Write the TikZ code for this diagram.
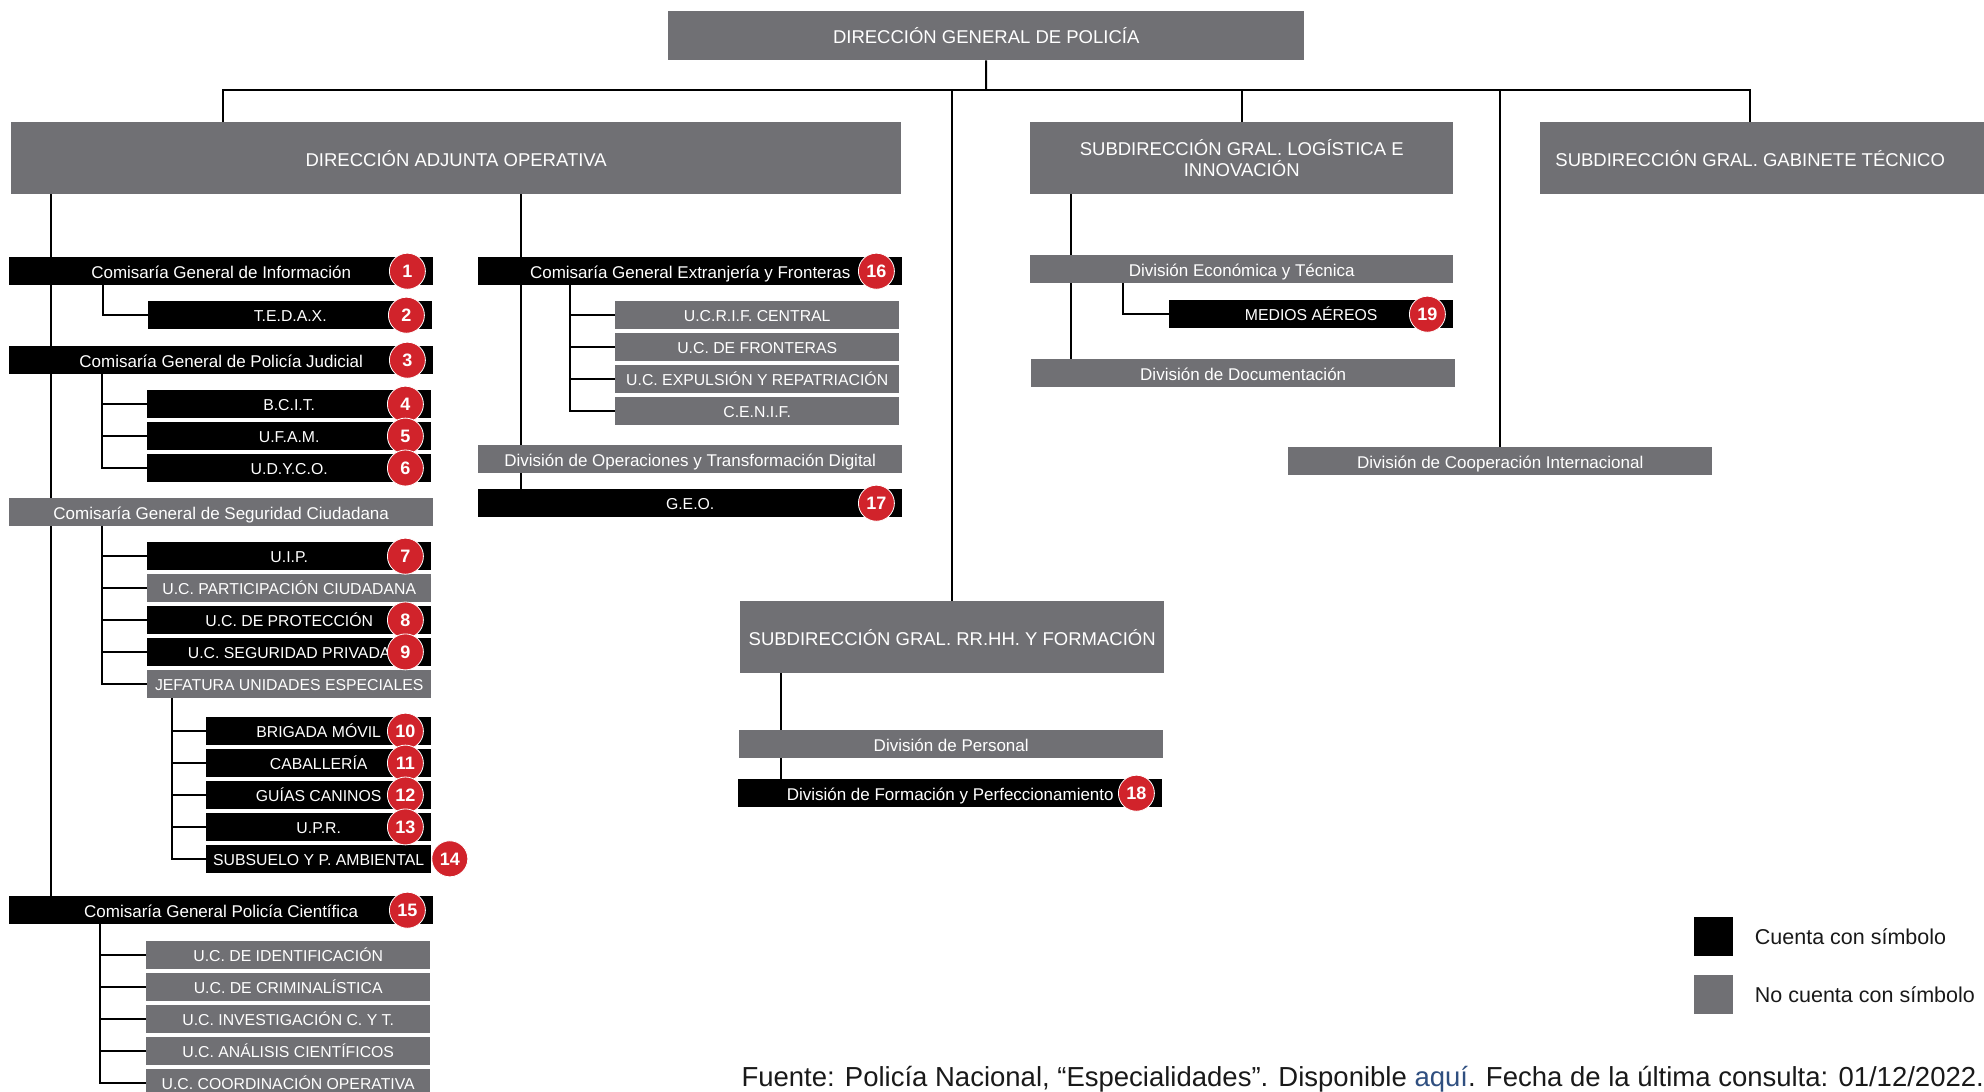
\documentclass[tikz,border=0pt]{standalone}
\usepackage{fontspec}
\setmainfont{Liberation Sans}
\usepackage{tikz}
\usetikzlibrary{positioning,backgrounds}
\definecolor{pngray}{RGB}{112,112,116}
\definecolor{pnred}{RGB}{209,35,43}
\definecolor{pnlink}{RGB}{47,79,128}
\definecolor{pntext}{RGB}{25,25,25}

\begin{document}
\begin{tikzpicture}[x=1pt, y=-1pt,
  hd/.style={rectangle, fill=pngray, text=white, inner sep=0pt, anchor=north west,
             minimum height=72pt, font=\fontsize{18.5}{22}\selectfont,
             text height=16.5pt, text depth=0pt},
  hd2/.style={rectangle, fill=pngray, text=white, inner sep=0pt, anchor=north west,
              minimum height=72pt, align=center, font=\fontsize{18.5}{21}\selectfont},
  blk/.style={rectangle, fill=black, text=white, inner sep=0pt, anchor=north west,
              minimum height=28pt, font=\fontsize{17}{20}\selectfont,
              text height=14pt, text depth=0pt},
  gry/.style={blk, fill=pngray},
  uc/.style={font=\fontsize{15.8}{19}\selectfont, text height=13.1pt},
  num/.style={circle, fill=pnred, draw=white, line width=0.8pt, text=white,
              minimum size=36pt, inner sep=0pt, font=\fontsize{18}{18}\selectfont\bfseries},
  ln/.style={line width=2pt},
  key/.style={rectangle, minimum size=39pt, inner sep=0pt, anchor=north west},
  lbl/.style={anchor=west, text=pntext, font=\fontsize{21.5}{25}\selectfont},
  node distance=3.5pt]

\useasboundingbox (0,0) rectangle (1984,1092);

\node[hd, minimum width=636pt, minimum height=49pt] (dgp) at (668,11) {DIRECCIÓN GENERAL DE POLICÍA};
\node[hd, minimum width=890pt] (dao) at (11,122) {DIRECCIÓN ADJUNTA OPERATIVA};
\node[hd2, minimum width=423pt] (logi) at (1030,122) {SUBDIRECCIÓN GRAL. LOGÍSTICA E\\INNOVACIÓN};
\node[hd, minimum width=420pt] (gab) at (1540,122) {SUBDIRECCIÓN GRAL. GABINETE TÉCNICO};
\fill[pngray] (gab.north east) rectangle ([xshift=24pt]gab.south east);
\node[hd, minimum width=424pt] (rrhh) at (740,601) {SUBDIRECCIÓN GRAL. RR.HH. Y FORMACIÓN};

% left column
\node[blk, minimum width=424pt] (cgi) at (9,257) {Comisaría General de Información};
\node[blk, uc, minimum width=284pt] (tedax) at (148,301) {T.E.D.A.X.};
\node[blk, minimum width=424pt] (cgpj) at (9,346) {Comisaría General de Policía Judicial};
\node[blk, uc, minimum width=284pt] (bcit) at (147,390) {B.C.I.T.};
\node[blk, uc, minimum width=284pt, below=of bcit] (ufam) {U.F.A.M.};
\node[blk, uc, minimum width=284pt, below=of ufam] (udyco) {U.D.Y.C.O.};
\node[gry, minimum width=424pt] (cgsc) at (9,498) {Comisaría General de Seguridad Ciudadana};
\node[blk, uc, minimum width=284pt] (uip) at (147,542) {U.I.P.};
\node[gry, uc, minimum width=284pt, below=of uip] (ucpc) {U.C. PARTICIPACIÓN CIUDADANA};
\node[blk, uc, minimum width=284pt, below=of ucpc] (ucdp) {U.C. DE PROTECCIÓN};
\node[blk, uc, minimum width=284pt, below=of ucdp] (ucsp) {U.C. SEGURIDAD PRIVADA};
\node[gry, uc, minimum width=284pt, below=of ucsp] (jue) {JEFATURA UNIDADES ESPECIALES};
\node[blk, uc, minimum width=225pt] (bm) at (206,717) {BRIGADA MÓVIL};
\node[blk, uc, minimum width=225pt, below=of bm] (cab) {CABALLERÍA};
\node[blk, uc, minimum width=225pt, below=of cab] (gc) {GUÍAS CANINOS};
\node[blk, uc, minimum width=225pt, below=of gc] (upr) {U.P.R.};
\node[blk, uc, minimum width=225pt, below=of upr] (spa) {SUBSUELO Y P. AMBIENTAL};
\node[blk, minimum width=424pt] (cgpc) at (9,896) {Comisaría General Policía Científica};
\node[gry, uc, minimum width=284pt] (ucid) at (146,941) {U.C. DE IDENTIFICACIÓN};
\node[gry, uc, minimum width=284pt, below=of ucid] (uccr) {U.C. DE CRIMINALÍSTICA};
\node[gry, uc, minimum width=284pt, below=of uccr] (ucin) {U.C. INVESTIGACIÓN C. Y T.};
\node[gry, uc, minimum width=284pt, below=of ucin] (ucan) {U.C. ANÁLISIS CIENTÍFICOS};
\node[gry, uc, minimum width=284pt, below=of ucan] (ucco) {U.C. COORDINACIÓN OPERATIVA};

% middle column
\node[blk, minimum width=424pt] (cgef) at (478,257) {Comisaría General Extranjería y Fronteras};
\node[gry, uc, minimum width=284pt] (ucrif) at (615,301) {U.C.R.I.F. CENTRAL};
\node[gry, uc, minimum width=284pt, below=of ucrif] (ucfr) {U.C. DE FRONTERAS};
\node[gry, uc, minimum width=284pt, below=of ucfr] (ucex) {U.C. EXPULSIÓN Y REPATRIACIÓN};
\node[gry, uc, minimum width=284pt, below=of ucex] (cenif) {C.E.N.I.F.};
\node[gry, minimum width=424pt] (dotd) at (478,445) {División de Operaciones y Transformación Digital};
\node[blk, uc, minimum width=424pt] (geo) at (478,489) {G.E.O.};

% right side
\node[gry, minimum width=423pt] (det) at (1030,255) {División Económica y Técnica};
\node[blk, uc, minimum width=284pt] (ma) at (1169,300) {MEDIOS AÉREOS};
\node[gry, minimum width=424pt] (dd) at (1031,359) {División de Documentación};
\node[gry, minimum width=424pt] (dci) at (1288,447) {División de Cooperación Internacional};
\node[gry, minimum width=424pt] (dp) at (739,730) {División de Personal};
\node[blk, minimum width=424pt] (dfp) at (738,779) {División de Formación y Perfeccionamiento};

\foreach \bx/\nr in {cgi/1,tedax/2,cgpj/3,bcit/4,ufam/5,udyco/6,uip/7,ucdp/8,ucsp/9,
    bm/10,cab/11,gc/12,upr/13,cgpc/15,cgef/16,geo/17,dfp/18,ma/19}
  \node[num] (n\nr) at ([xshift=-26pt]\bx.east) {\nr};
\node[num, right=0pt of spa] (n14) {14};

\begin{scope}[on background layer]
\coordinate (bus) at (986,90);
\draw[ln] (dgp.south) -- (bus);
\draw[ln] ([xshift=-233pt]dao.north) |- (bus);
\draw[ln] (rrhh.north) |- (bus);
\draw[ln] (logi.north) |- (bus);
\draw[ln] (dci.north) |- (bus);
\draw[ln] (gab.north) |- (bus);
\draw[ln] ([xshift=40pt]dao.south west) -- ([xshift=42pt]cgpc.north west);
\draw[ln] ([xshift=510pt]dao.south west) -- ([xshift=43pt]geo.north west);
\draw[ln] ([xshift=94pt]cgi.south west) |- (tedax.west);
\foreach \c in {bcit,ufam,udyco}
  \draw[ln] ([xshift=93pt]cgpj.south west) |- (\c.west);
\foreach \c in {uip,ucpc,ucdp,ucsp,jue}
  \draw[ln] ([xshift=93pt]cgsc.south west) |- (\c.west);
\foreach \c in {bm,cab,gc,upr,spa}
  \draw[ln] ([xshift=25pt]jue.south west) |- (\c.west);
\foreach \c in {ucid,uccr,ucin,ucan,ucco}
  \draw[ln] ([xshift=91pt]cgpc.south west) |- (\c.west);
\foreach \c in {ucrif,ucfr,ucex,cenif}
  \draw[ln] ([xshift=92pt]cgef.south west) |- (\c.west);
\draw[ln] ([xshift=41pt]logi.south west) -- ([xshift=40pt]dd.north west);
\draw[ln] ([xshift=93pt]det.south west) |- (ma.west);
\draw[ln] ([xshift=41pt]rrhh.south west) -- ([xshift=43pt]dfp.north west);
\end{scope}

% legend and source
\node[key, fill=black] (keyb) at (1694,917) {};
\node[key, fill=pngray] (keyg) at (1694,975) {};
\node[lbl, right=18pt of keyb] (keybt) {Cuenta con símbolo};
\node[lbl, right=18pt of keyg] (keygt) {No cuenta con símbolo};
\node[anchor=base west, text=pntext, font=\fontsize{27.5}{32}\selectfont] (src) at (738,1086)
  {Fuente: Policía Nacional, “Especialidades”. Disponible {\color{pnlink}\underline{aquí}}. Fecha de la última consulta: 01/12/2022.};
\end{tikzpicture}
\end{document}
